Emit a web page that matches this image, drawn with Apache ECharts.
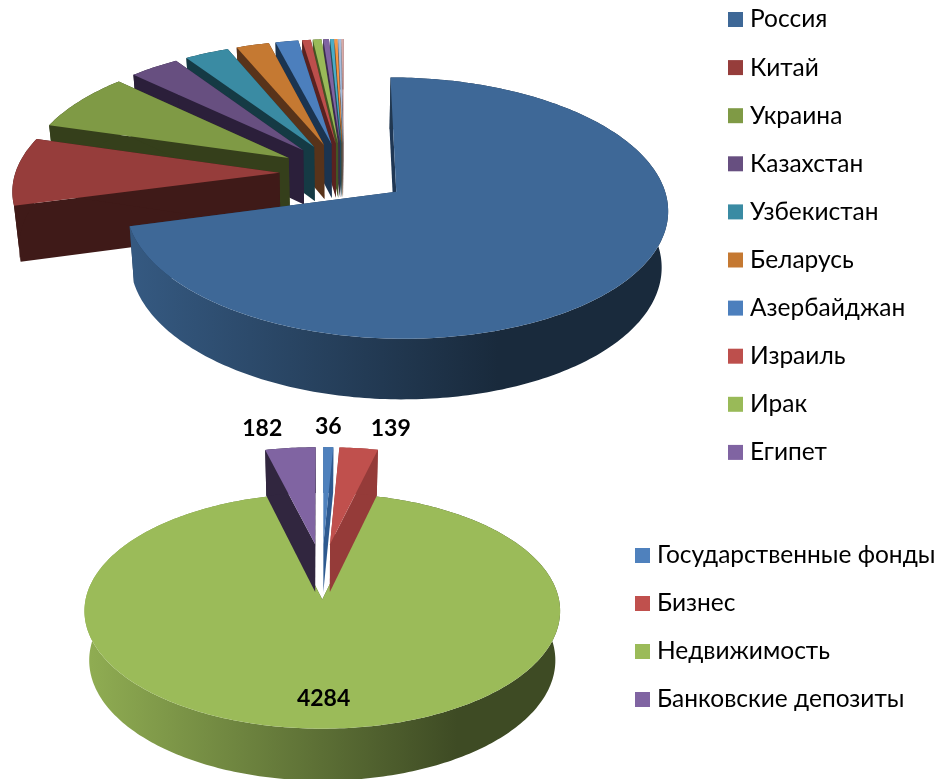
<!DOCTYPE html>
<html>
<head>
<meta charset="utf-8">
<title>3D pies</title>
<script src="https://cdn.jsdelivr.net/npm/echarts@6/dist/echarts.min.js"></script>
<style>
html, body { margin: 0; background: #fff; }
#main { width: 940px; height: 779px; }
</style>
</head>
<body>
<div id="main"></div>
<script>
// top pie, shares in percent (only ten slices have a legend entry)
var countryNames = ['Россия', 'Китай', 'Украина', 'Казахстан', 'Узбекистан', 'Беларусь', 'Азербайджан', 'Израиль', 'Ирак', 'Египет', 'Другая 1', 'Другая 2', 'Другая 3', 'Другая 4']
var countryValues = [70.8, 8.7, 7.55, 3.5, 3.1, 2.3, 1.6, 0.6, 0.6, 0.4, 0.25, 0.2, 0.2, 0.15]
var countryLegend = countryNames.slice(0, 10)
var countryColors = ['#3e6897', '#963d3b', '#7f9a45', '#674f80', '#3a8ba3', '#c57932', '#4c7fbd', '#bd4f4c', '#99ba58', '#8064a2', '#4bacc6', '#f79646', '#a7bddd', '#d8a9a8']
var countryWalls = ['#1f3754', '#3f1a18', '#353f1b', '#2b1f3a', '#153a44', '#58331a', '#1b3450', '#5a2220', '#445524', '#3a2c4c', '#20505c', '#7a4a20', '#55606e', '#6e5454']

// bottom pie
var fundNames = ['Государственные фонды', 'Бизнес', 'Недвижимость', 'Банковские депозиты']
var fundValues = [36, 139, 4284, 182]
var fundColors = ['#4f81bd', '#c0504d', '#9bbb59', '#8064a2']
var fundWalls = ['#2e5a90', '#953b39', '#4a5a28', '#31263f']
var fundLabelOffsets = [[0, -21], [32, -20], [0, -30], [-28, -19]]

var topPie = { cx: 344, cy: 173, a: 264, b: 124, k: 0.122, explode: 0.245, depth: 55, shrink: 0.98 }
var bottomPie = { cx: 322, cy: 571, a: 231, b: 111, k: 0.096, explode: 0.25, depth: 48.5, shrink: 0.98 }

function project(pie, u, v, low) {
  var s = 1 / (1 - pie.k * v)
  var f = low ? pie.shrink : 1
  return [pie.cx + pie.a * u * s * f, pie.cy + pie.b * v * s * f + (low ? pie.depth * s : 0)]
}

function shade(hex, f) {
  var n = parseInt(hex.slice(1), 16)
  var r = Math.round((n >> 16 & 255) * f)
  var g = Math.round((n >> 8 & 255) * f)
  var b = Math.round((n & 255) * f)
  return 'rgb(' + r + ',' + g + ',' + b + ')'
}

// one custom series per slice, so the legend can list them by name
function sliceSeries(pie, names, values, colors, walls, offsets, z) {
  var total = values.reduce(function (a, b) { return a + b }, 0)
  var angle = 0
  return values.map(function (value, i) {
    var start = angle
    var end = angle + value / total * 360
    angle = end
    return {
      type: 'custom',
      name: names[i],
      coordinateSystem: 'none',
      z: z(i),
      silent: true,
      itemStyle: { color: colors[i] },
      data: [[value]],
      renderItem: function (params, api) {
        var val = api.value(0)
        var mid = (start + end) / 2 * Math.PI / 180
        var au = pie.explode * Math.sin(mid)
        var av = -pie.explode * Math.cos(mid)
        var rim = []
        var steps = Math.max(2, Math.ceil(end - start))
        for (var j = 0; j <= steps; j++) {
          var t = (start + (end - start) * j / steps) * Math.PI / 180
          rim.push([au + Math.sin(t), av - Math.cos(t)])
        }
        var apexTop = project(pie, au, av, false)
        var apexLow = project(pie, au, av, true)
        var rimTop = rim.map(function (p) { return project(pie, p[0], p[1], false) })
        var rimLow = rim.map(function (p) { return project(pie, p[0], p[1], true) })
        var first = 0
        var last = rim.length - 1

        var arcFill = walls[i]
        if (end - start > 180) {
          arcFill = new echarts.graphic.LinearGradient(pie.cx - pie.a, 0, pie.cx + pie.a * 1.2, 0, [
            { offset: 0, color: shade(colors[i], 0.92) },
            { offset: 0.72, color: shade(colors[i], 0.4) },
            { offset: 1, color: shade(colors[i], 0.4) }
          ], true)
        }

        var children = [
          { type: 'polygon', shape: { points: [apexTop, rimTop[first], rimLow[first], apexLow] }, style: { fill: walls[i] } },
          { type: 'polygon', shape: { points: [apexTop, rimTop[last], rimLow[last], apexLow] }, style: { fill: walls[i] } },
          { type: 'polygon', shape: { points: rimTop.concat(rimLow.slice().reverse()) }, style: { fill: arcFill } },
          { type: 'polygon', shape: { points: [apexTop].concat(rimTop) }, style: { fill: colors[i] } }
        ]
        if (offsets) {
          var midRim = project(pie, au + Math.sin(mid), av - Math.cos(mid), false)
          children.push({
            type: 'text',
            style: {
              text: String(val),
              x: midRim[0] + offsets[i][0],
              y: midRim[1] + offsets[i][1],
              align: 'center',
              verticalAlign: 'middle',
              fill: '#000',
              font: 'bold 23px Lato, "Open Sans", sans-serif'
            }
          })
        }
        return { type: 'group', children: children }
      }
    }
  })
}

// back slices first: the top pie goes from the last slice to Россия
var topSeries = sliceSeries(topPie, countryNames, countryValues, countryColors, countryWalls, null, function (i) { return 30 - i })
// Недвижимость sits behind the three small slices
var bottomSeries = sliceSeries(bottomPie, fundNames, fundValues, fundColors, fundWalls, fundLabelOffsets, function (i) { return i === 2 ? 40 : 41 })

var legendText = { fontFamily: 'Lato, "Open Sans", sans-serif', fontSize: 24.5, color: '#000', padding: [0, 0, 0, 2] }

var chart = echarts.init(document.getElementById('main'), null, { renderer: 'canvas' })
chart.setOption({
  animation: false,
  backgroundColor: '#fff',
  legend: [
    {
      orient: 'vertical', left: 723, top: 0, padding: [7, 5, 5, 5], icon: 'rect', itemWidth: 15, itemHeight: 15, itemGap: 23.1,
      data: countryLegend, textStyle: legendText, selectedMode: false
    },
    {
      orient: 'vertical', left: 630, top: 536, padding: [7, 5, 5, 5], icon: 'rect', itemWidth: 15, itemHeight: 15, itemGap: 23,
      data: fundNames, textStyle: legendText, selectedMode: false
    }
  ],
  series: topSeries.concat(bottomSeries)
})
</script>
</body>
</html>
